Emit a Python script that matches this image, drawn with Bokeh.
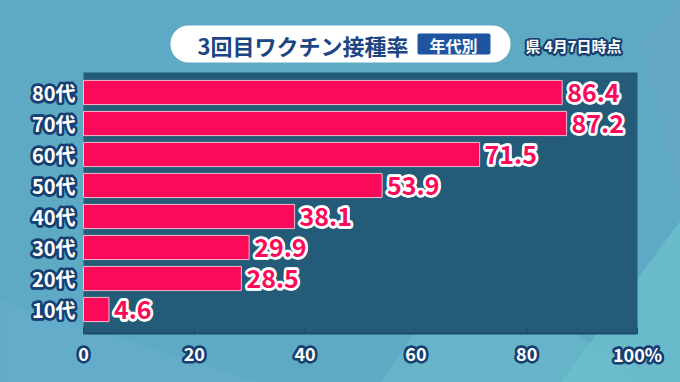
import math
from bokeh.plotting import figure
from bokeh.models import ColumnDataSource, Label, BoxAnnotation, PolyAnnotation, Range1d
from bokeh.embed import file_html
from bokeh.resources import INLINE
from bokeh.core.properties import value

categories = ["10代", "20代", "30代", "40代", "50代", "60代", "70代", "80代"]
rates = [4.6, 28.5, 29.9, 38.1, 53.9, 71.5, 87.2, 86.4]
rate_labels = ["4.6", "28.5", "29.9", "38.1", "53.9", "71.5", "87.2", "86.4"]
x_ticks = [0, 20, 40, 60, 80, 100]
x_tick_labels = ["0", "20", "40", "60", "80", "100%"]
title_text = "3回目ワクチン接種率"
badge_text = "年代別"
note_text = "県 4月7日時点"

FONT = value("Noto Sans CJK JP")
BG = "#5ea9c4"
PANEL = "#245b78"
BAR = "#fa0a58"
NAVY = "#163f72"

W, H = 680, 382
# page-pixel layout of the value scale (0..100) and the rows
PX0, PX100 = 83, 637
ROW0_Y, ROW_STEP = 309, 31.0          # pixel y of first row centre, pixel gap between rows
PANEL_TOP, PANEL_BOTTOM = 72, 333     # pixel y of the dark panel

kx = (PX100 - PX0) / 100.0
x_start = -PX0 / kx
x_end = (W - PX0) / kx
y_start = (ROW0_Y - H) / ROW_STEP
y_end = ROW0_Y / ROW_STEP


def py(Y):  # pixel y -> data y
    return (ROW0_Y - Y) / ROW_STEP


ypos = list(range(len(categories)))
bars = ColumnDataSource(dict(y=ypos, v=rates, lab=rate_labels))
cats = ColumnDataSource(dict(y=ypos, lab=categories, x0=[0] * len(ypos)))
xt = ColumnDataSource(dict(x=x_ticks, lab=x_tick_labels,
                           yb=[py(PANEL_BOTTOM)] * len(x_ticks),
                           yt=[py(PANEL_BOTTOM - 6)] * len(x_ticks),
                           yl=[py(353)] * len(x_ticks)))

p = figure(width=W, height=H, output_backend="svg", toolbar_location=None,
           x_range=Range1d(x_start, x_end), y_range=Range1d(y_start, y_end),
           min_border=0)
p.axis.visible = False
p.title.visible = False
p.background_fill_color = BG
p.border_fill_color = BG
p.outline_line_color = None
p.grid.visible = False

# subtle background facets (screen pixels)
for xs, ys, col, al in [
    ([0, 0, 260, 120], [382, 300, 382, 382], "#6ab2cf", 0.5),
    ([560, 680, 680, 520], [382, 220, 382, 382], "#72c6cf", 0.6),
    ([380, 470, 640, 560], [382, 250, 382, 382], "#6cc0cc", 0.5),
    ([640, 680, 680], [40, 0, 200], "#6aa6c8", 0.5),
]:
    p.add_layout(PolyAnnotation(xs=xs, ys=[H - v for v in ys], xs_units="screen", ys_units="screen",
                                fill_color=col, fill_alpha=al, line_color=None, level="underlay"))

# dark panel
p.quad(left=[x_ticks[0]], right=[x_ticks[-1]], bottom=[py(PANEL_BOTTOM)], top=[py(PANEL_TOP)],
       fill_color=PANEL, line_color=None)

p.hbar(y="y", right="v", left=0, height=0.78, source=bars, fill_color=BAR,
       line_color="#f7b8cc", line_width=1)

# axis line and ticks
p.segment(x0=x_ticks[0], x1=x_ticks[-1], y0=py(PANEL_BOTTOM), y1=py(PANEL_BOTTOM),
          line_color="#1d4a66", line_width=2)
p.segment(x0="x", x1="x", y0="yb", y1="yt", source=xt, line_color="#1d4a66", line_width=1)

N = 12


def outlined_text(source, xcol, ycol, color, outline, r, dx=0, **kw):
    for k in range(N):
        a = 2 * math.pi * k / N
        p.text(x=xcol, y=ycol, text="lab", source=source, text_color=outline,
               text_outline_color=outline, x_offset=dx + r * math.cos(a), y_offset=r * math.sin(a),
               text_font=FONT, text_font_style="bold", **kw)
    p.text(x=xcol, y=ycol, text="lab", source=source, text_color=color, x_offset=dx,
           text_font=FONT, text_font_style="bold", **kw)


outlined_text(bars, "v", "y", BAR, "white", 2.0, dx=5, text_font_size="25px",
              text_baseline="middle", text_align="left")
outlined_text(cats, "x0", "y", "white", NAVY, 2.0, dx=-8, text_font_size="20px",
              text_baseline="middle", text_align="right")
outlined_text(xt, "x", "yl", "white", NAVY, 2.0, dx=0, text_font_size="18px",
              text_baseline="middle", text_align="center")

# title pill
pill = BoxAnnotation(left=170, right=510, top=H - 25, bottom=H - 62,
                     left_units="screen", right_units="screen", top_units="screen", bottom_units="screen",
                     fill_color="white", fill_alpha=1, line_color=None, border_radius=18, level="overlay")
p.add_layout(pill)
badge = BoxAnnotation(left=417, right=490, top=H - 33, bottom=H - 54,
                      left_units="screen", right_units="screen", top_units="screen", bottom_units="screen",
                      fill_color="#1f55a0", fill_alpha=1, line_color=None, border_radius=2, level="overlay")
p.add_layout(badge)
p.add_layout(Label(x=197, y=H - 44, x_units="screen", y_units="screen", text=title_text,
                   text_font="Noto Sans CJK JP", text_font_style="bold", text_font_size="22px",
                   text_color="#1b4683", text_baseline="middle", text_align="left", level="overlay"))
p.add_layout(Label(x=453, y=H - 44, x_units="screen", y_units="screen", text=badge_text,
                   text_font="Noto Sans CJK JP", text_font_style="bold", text_font_size="16px",
                   text_color="white", text_baseline="middle", text_align="center", level="overlay"))
for k in range(8):
    a = 2 * math.pi * k / 8
    p.add_layout(Label(x=525, y=H - 45, x_units="screen", y_units="screen", text=note_text,
                       x_offset=1.5 * math.cos(a), y_offset=1.5 * math.sin(a),
                       text_font="Noto Sans CJK JP", text_font_style="bold", text_font_size="15px",
                       text_color=NAVY, text_outline_color=NAVY, text_baseline="middle",
                       text_align="left", level="overlay"))
p.add_layout(Label(x=525, y=H - 45, x_units="screen", y_units="screen", text=note_text,
                   text_font="Noto Sans CJK JP", text_font_style="bold", text_font_size="15px",
                   text_color="white", text_baseline="middle", text_align="left", level="overlay"))

html = file_html(p, INLINE)
html = html.replace("<body>", '<body style="background-color:%s;">' % BG)
open("out.html", "w").write(html)
